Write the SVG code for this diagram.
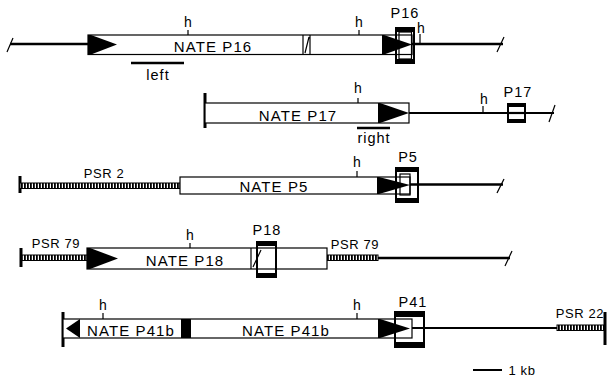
<svg xmlns="http://www.w3.org/2000/svg" width="608" height="378" viewBox="0 0 608 378">
<style>
text{font-family:"Liberation Sans",Arial,sans-serif;fill:#000}
.n{font-size:15px;letter-spacing:1.1px;text-anchor:middle}
.p{font-size:14.5px;letter-spacing:1px;text-anchor:middle}
.s{font-size:13px;letter-spacing:0.6px;text-anchor:middle}
.h{font-size:14px;text-anchor:middle}
.box{fill:#fff;stroke:#000;stroke-width:1.2}
.ln{stroke:#000;stroke-width:2.5;fill:none}
.thin{stroke:#000;stroke-width:1.2;fill:none}
.bar{stroke:#000;stroke-width:3;fill:none}
.frame{fill:none;stroke:#000;stroke-width:2}
.hat{fill:url(#hatch);stroke:#000;stroke-width:1}
</style>
<defs>
<pattern id="hatch" width="3" height="8" patternUnits="userSpaceOnUse"><rect width="3" height="8" fill="#fff"/><rect width="1.8" height="8" fill="#000"/></pattern>
</defs>
<g id="connectors"></g>

<g id="row-p16">
<path class="ln" d="M10 44H88M412 44H503"/>
<path class="thin" d="M7 52L13 38M497 52L504 37"/>
<rect class="box" x="88" y="35" width="324" height="19.5"/>
<path class="thin" d="M303 35V54.5M310 35V54.5M305 53L309 37"/>
<path class="thin" d="M188 30V35M359 30V35M420 34V44"/>
<text class="h" x="188" y="27">h</text>
<text class="h" x="359" y="27">h</text>
<text class="h" x="421" y="33">h</text>
<polygon points="88,35 91,35 117,44.5 91,54.5 88,54.5"/>
<rect class="frame" x="396" y="28" width="18" height="35"/>
<rect x="396" y="28" width="18" height="4"/>
<rect x="396" y="59" width="18" height="4"/>
<rect class="thin" x="399" y="32" width="12.5" height="27"/>
<polygon points="382,35 384,35 412,44.5 384,54.5 382,54.5"/>
<text class="n" x="213" y="52">NATE P16</text>
<text class="p" x="405" y="18">P16</text>
<path class="ln" d="M131 63H184"/>
<text class="p" x="158" y="80">left</text>
</g>

<g id="row-p17">
<path class="bar" d="M205 93V128"/>
<path class="ln" d="M409 113H554" style="stroke-width:2.2"/>
<path class="thin" d="M549 122L555 105"/>
<rect class="box" x="205" y="103" width="204" height="20"/>
<polygon points="378,103 380,103 409,113 380,123 378,123"/>
<path class="thin" d="M358 98V103M483 106V113"/>
<text class="h" x="358" y="93">h</text>
<text class="h" x="484" y="104">h</text>
<rect class="frame" x="508" y="104" width="17" height="18" style="fill:#fff"/>
<rect x="508" y="104" width="17" height="3"/>
<rect x="508" y="119" width="17" height="3"/>
<path class="ln" d="M508 113H525" style="stroke-width:2.2"/>
<text class="n" x="298" y="121">NATE P17</text>
<text class="p" x="518" y="97">P17</text>
<path class="ln" d="M357 128H390"/>
<text class="p" x="374" y="143">right</text>
</g>

<g id="row-p5">
<path class="bar" d="M20 176V193"/>
<rect class="hat" x="20" y="183" width="160" height="5.5"/>
<path class="ln" d="M410 184.5H503"/>
<path class="thin" d="M497 193L504 179"/>
<rect class="box" x="180" y="177" width="230" height="17"/>
<path class="thin" d="M357 171V177"/>
<text class="h" x="357" y="167">h</text>
<rect class="frame" x="396" y="168" width="22" height="34"/>
<rect x="396" y="168" width="22" height="4"/>
<rect x="396" y="198" width="22" height="4"/>
<rect class="thin" x="400" y="174" width="10" height="21"/>
<polygon points="377,177 379,177 410,185 379,194 377,194"/>
<text class="s" x="104" y="178">PSR 2</text>
<text class="n" x="274" y="192">NATE P5</text>
<text class="p" x="408" y="162">P5</text>
</g>

<g id="row-p18">
<path class="bar" d="M21 248V267"/>
<rect class="hat" x="21" y="255" width="66" height="5.5"/>
<rect class="hat" x="327" y="255" width="51" height="5.5"/>
<path class="ln" d="M378 258H510"/>
<path class="thin" d="M505 266L512 251"/>
<rect class="box" x="87" y="248" width="240" height="21"/>
<polygon points="87,248 90,248 118,258.5 90,269 87,269"/>
<path class="thin" d="M190 243V248"/>
<text class="h" x="190" y="240">h</text>
<path class="thin" d="M251 248V269M253 267L261 250"/>
<rect class="frame" x="257" y="242" width="19" height="35"/>
<rect x="257" y="242" width="19" height="4"/>
<rect x="257" y="273" width="19" height="4"/>
<text class="n" x="185" y="266">NATE P18</text>
<text class="p" x="267" y="235">P18</text>
<text class="s" x="56" y="248">PSR 79</text>
<text class="s" x="355" y="249">PSR 79</text>
</g>

<g id="row-p41">
<path class="bar" d="M63 312V347"/>
<path class="ln" d="M412 328H557" style="stroke-width:2"/>
<rect class="hat" x="557" y="325" width="47" height="5.5"/>
<path class="bar" d="M605 312V345"/>
<rect class="box" x="63" y="319" width="349" height="19"/>
<polygon points="80,319 80,338 66,328.5"/>
<rect x="181" y="319" width="10" height="19"/>
<path class="thin" d="M103 313V319M357 313V319"/>
<text class="h" x="103" y="310">h</text>
<text class="h" x="357" y="310">h</text>
<rect class="frame" x="395" y="312" width="29" height="35"/>
<rect x="395" y="312" width="29" height="5"/>
<rect x="395" y="342" width="29" height="5"/>
<polygon points="378,319 380,319 410,328.5 380,338 378,338"/>
<text class="n" x="131" y="336">NATE P41b</text>
<text class="n" x="286" y="336">NATE P41b</text>
<text class="p" x="413" y="307">P41</text>
<text class="s" x="580" y="318">PSR 22</text>
</g>

<g id="scale">
<path class="ln" d="M473 370H502" style="stroke-width:2"/>
<text class="s" x="522" y="375">1 kb</text>
</g>
</svg>
